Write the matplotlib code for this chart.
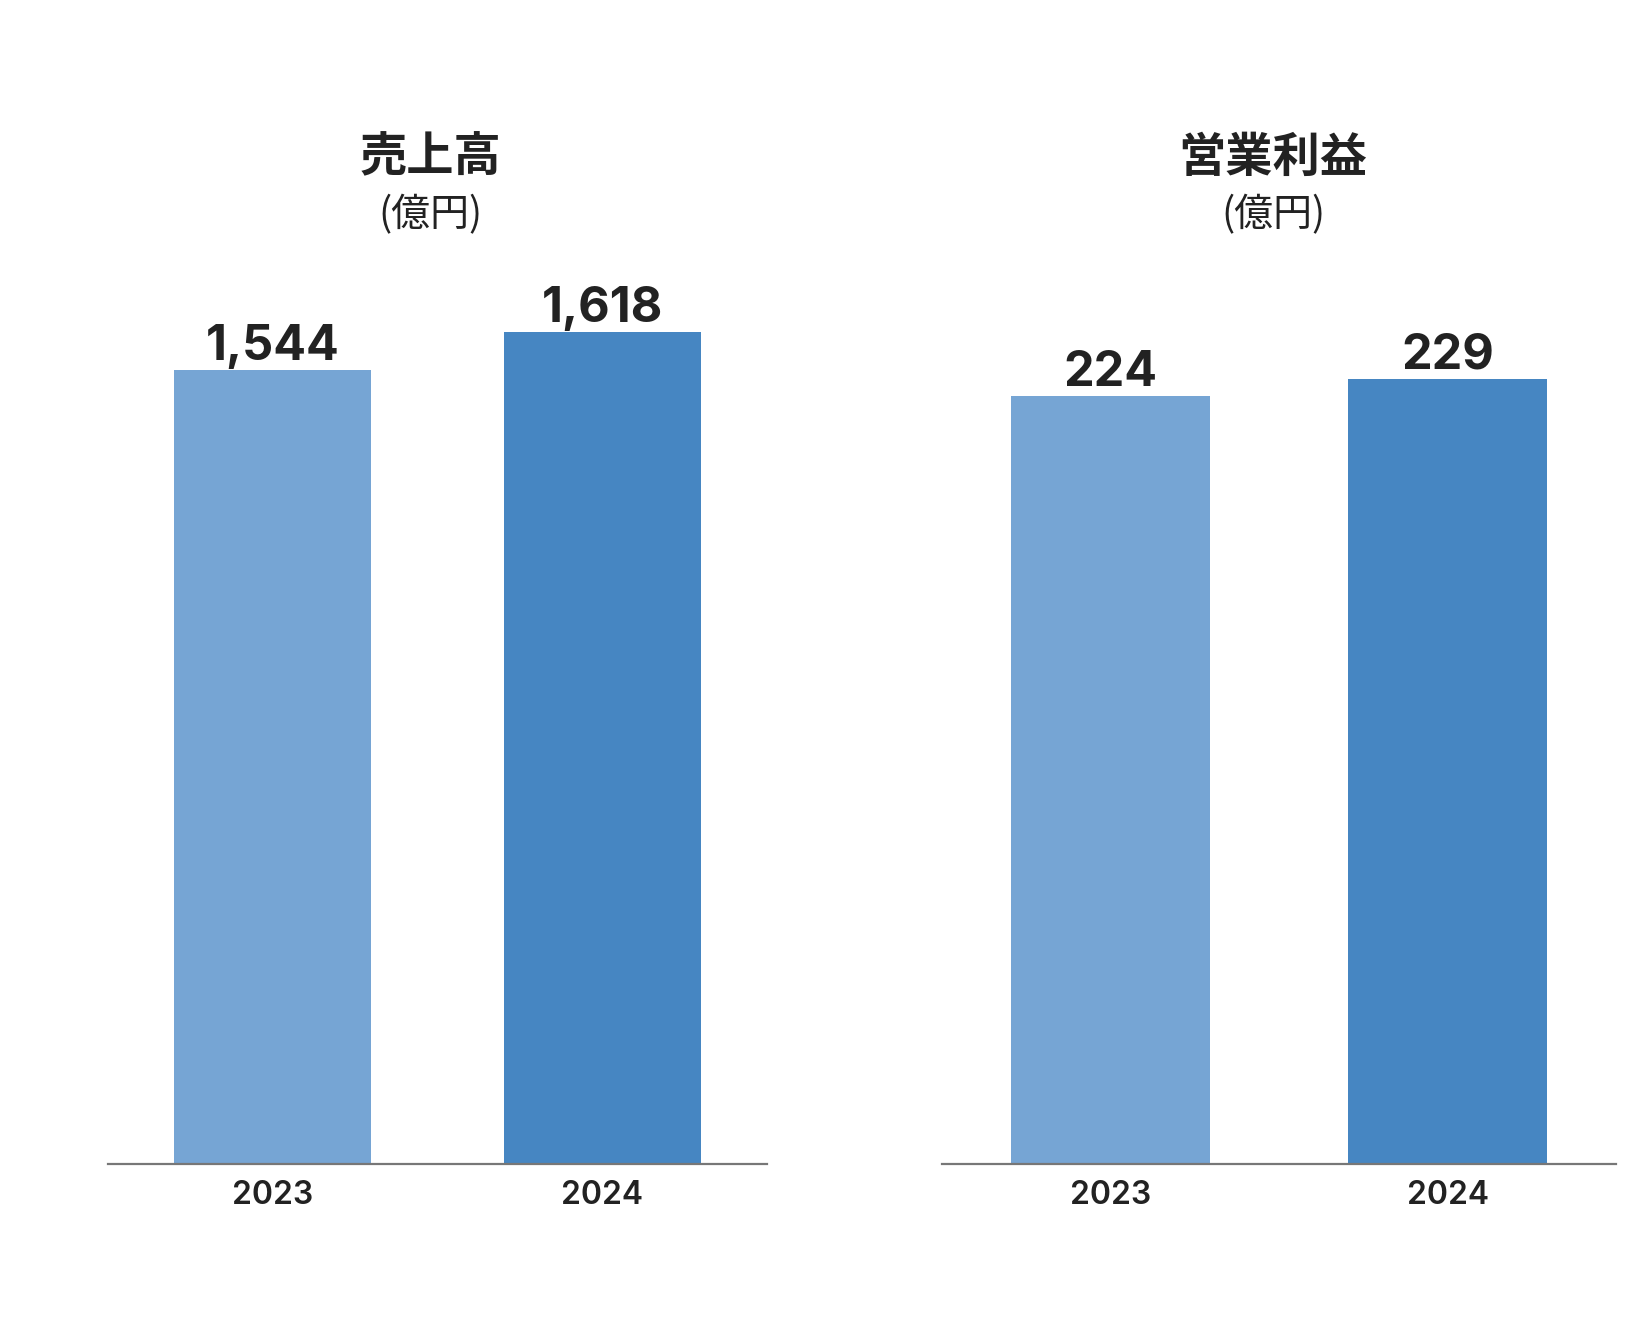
import matplotlib.pyplot as plt

plt.rcParams['font.family'] = ['Inter', 'Noto Sans CJK JP', 'DejaVu Sans']

years = ['2023', '2024']
sales = [1544, 1618]
profit = [224, 229]
titles = ['売上高', '営業利益']
unit = '(億円)'
colors = ['#76a5d4', '#4686c2']

fig = plt.figure(figsize=(16.48, 13.2), dpi=100)

panels = [
    # (left, width, ylim top, data, bar width, title x)
    (0.0655, 0.3999, 1778, sales, 0.597, 0.2614),
    (0.5716, 0.4090, 266.7, profit, 0.59, 0.7726),
]

for i, (left, width, ytop, vals, bw, tx) in enumerate(panels):
    ax = fig.add_axes([left, 0.1182, width, 0.6924])
    ax.bar(range(len(years)), vals, width=bw, color=colors, zorder=2)
    ax.set_xlim(-0.5, 1.5)
    ax.set_ylim(0, ytop)
    for s in ['top', 'right', 'left']:
        ax.spines[s].set_visible(False)
    ax.spines['bottom'].set_color('#777777')
    ax.spines['bottom'].set_linewidth(1.6)
    ax.spines['bottom'].set_zorder(3)
    ax.set_yticks([])
    ax.set_xticks(range(len(years)))
    ax.set_xticklabels(years, fontsize=23, color='#222222', fontweight='semibold')
    ax.tick_params(axis='x', length=0, pad=11.5)
    for x, v in enumerate(vals):
        ax.annotate(f'{v:,}', (x, v), xytext=(0, 7.6), textcoords='offset points',
                    ha='center', va='baseline', fontsize=35, fontweight='bold',
                    color='#222222')
    fig.text(tx, 0.8805, titles[i], ha='center', va='center', fontsize=34,
             fontweight='bold', color='#222222',
             family=['Noto Sans CJK JP', 'DejaVu Sans'])
    fig.text(tx, 0.8370, unit, ha='center', va='center', fontsize=28,
             color='#222222', family=['Noto Sans CJK JP', 'DejaVu Sans'])

fig.savefig('out.png', dpi=100, facecolor='white')
